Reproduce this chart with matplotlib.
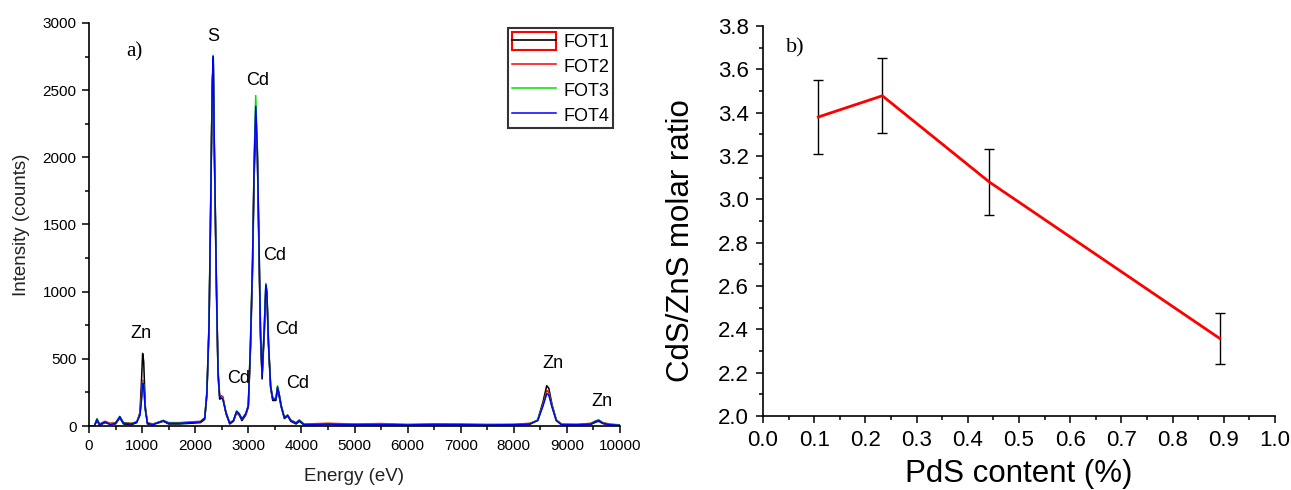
import matplotlib

matplotlib.use("Agg")
import matplotlib.pyplot as plt
from matplotlib.legend_handler import HandlerTuple
from matplotlib.lines import Line2D
from matplotlib.patches import Patch
from matplotlib.ticker import MultipleLocator

plt.rcParams["font.family"] = ["Liberation Sans", "DejaVu Sans"]

# ---- panel a) EDX spectra ----
energy_ev = [0, 100, 150, 200, 300, 400, 500, 580, 650, 800,
             900, 960, 990, 1010, 1030, 1060, 1100, 1200, 1400, 1500,
             1700, 1900, 2100, 2180, 2220, 2260, 2290, 2320, 2340, 2360,
             2400, 2430, 2460, 2520, 2580, 2650, 2720, 2780, 2830, 2880,
             2950, 3000, 3040, 3080, 3110, 3140, 3170, 3200, 3230, 3260,
             3300, 3330, 3350, 3380, 3420, 3460, 3520, 3550, 3580, 3620,
             3680, 3740, 3800, 3900, 3960, 4050, 4500, 5000, 5500, 6000,
             6500, 7000, 7500, 8000, 8300, 8450, 8550, 8620, 8660, 8720,
             8800, 8900, 9200, 9450, 9550, 9600, 9680, 9800, 10000]

fot1 = [0, 0, 40, 5, 25, 15, 15, 60, 15, 10,
        25, 100, 350, 540, 480, 150, 15, 10, 35, 15,
        15, 20, 25, 50, 230, 720, 1550, 2550, 2700, 2050,
        1000, 380, 200, 210, 90, 15, 35, 100, 80, 40,
        80, 140, 560, 1150, 1850, 2200, 2020, 1300, 650, 350,
        680, 1000, 980, 600, 280, 190, 190, 270, 220, 140,
        55, 75, 35, 15, 35, 8, 12, 8, 10, 6,
        10, 8, 6, 8, 12, 45, 180, 300, 280, 160,
        45, 8, 8, 12, 30, 35, 18, 8, 4]

fot2 = [0, 0, 45, 15, 35, 20, 25, 65, 25, 20,
        30, 90, 240, 340, 310, 130, 25, 15, 40, 25,
        25, 30, 35, 60, 240, 740, 1580, 2520, 2720, 2080,
        1060, 410, 230, 220, 100, 25, 40, 105, 85, 55,
        85, 150, 590, 1220, 1940, 2350, 2040, 1380, 690, 380,
        710, 1040, 990, 620, 300, 210, 200, 285, 235, 150,
        65, 80, 45, 25, 45, 15, 20, 15, 18, 12,
        15, 15, 12, 12, 20, 42, 160, 265, 250, 150,
        45, 15, 12, 20, 40, 45, 25, 15, 8]

fot3 = [0, 0, 55, 12, 30, 12, 22, 72, 22, 18,
        32, 85, 210, 330, 305, 125, 22, 12, 42, 22,
        22, 28, 32, 62, 255, 760, 1620, 2540, 2760, 2090,
        1060, 405, 225, 205, 100, 22, 42, 112, 92, 52,
        92, 155, 610, 1240, 1980, 2460, 2080, 1390, 710, 385,
        730, 1060, 1010, 630, 305, 205, 205, 300, 245, 155,
        62, 82, 42, 22, 42, 12, 18, 12, 15, 10,
        15, 12, 10, 12, 18, 42, 155, 245, 235, 145,
        42, 12, 12, 18, 38, 45, 22, 12, 6]

fot4 = [0, 0, 50, 10, 30, 10, 20, 70, 20, 15,
        30, 80, 200, 320, 300, 120, 20, 10, 40, 20,
        20, 25, 30, 60, 250, 750, 1600, 2500, 2750, 2100,
        1050, 400, 220, 200, 100, 20, 40, 110, 90, 50,
        90, 150, 600, 1230, 1950, 2380, 2050, 1400, 700, 380,
        720, 1050, 1000, 620, 300, 200, 200, 290, 240, 150,
        60, 80, 40, 20, 40, 10, 15, 10, 12, 8,
        12, 10, 8, 10, 15, 40, 150, 240, 230, 140,
        40, 10, 10, 15, 35, 40, 20, 10, 5]

series_names = ["FOT1", "FOT2", "FOT3", "FOT4"]
series_colors = ["#000000", "#ff0000", "#00e000", "#0000ff"]

peak_labels = ["S", "Cd", "Cd", "Cd", "Cd", "Cd", "Zn", "Zn", "Zn"]
peak_label_pos = [(2335, 2900), (3180, 2575), (3500, 1270), (3730, 715),
                  (2825, 357), (3920, 320), (980, 690), (8740, 462), (9660, 186)]

# ---- panel b) molar ratio ----
pds_content = [0.108, 0.233, 0.442, 0.892]
molar_ratio = [3.38, 3.478, 3.08, 2.358]
ratio_err = [0.17, 0.172, 0.154, 0.118]

fig = plt.figure(figsize=(12.91, 4.90), dpi=100)
W, H = 1291, 490


def px_axes(left, top, right, bottom):
    return fig.add_axes([left / W, 1 - bottom / H, (right - left) / W, (bottom - top) / H])


ax1 = px_axes(89, 23, 620, 426)
ax2 = px_axes(763, 26, 1275, 416)

for ax in (ax1, ax2):
    for side in ("top", "right"):
        ax.spines[side].set_visible(False)
    for side in ("left", "bottom"):
        ax.spines[side].set_linewidth(1.2)
    ax.tick_params(which="major", direction="out", length=5, width=1.1)
    ax.tick_params(which="minor", direction="out", length=3, width=1.1)

# panel a
spectra = [fot1, fot2, fot3, fot4]
lines = []
for name, vals, col in zip(series_names, spectra, series_colors):
    ln, = ax1.plot(energy_ev, vals, color=col, lw=1.1, label=name)
    lines.append(ln)

ax1.set_xlim(0, 10000)
ax1.set_ylim(0, 3000)
ax1.xaxis.set_major_locator(MultipleLocator(1000))
ax1.xaxis.set_minor_locator(MultipleLocator(500))
ax1.yaxis.set_major_locator(MultipleLocator(500))
ax1.yaxis.set_minor_locator(MultipleLocator(250))
ax1.tick_params(labelsize=11, pad=4)
ax1.set_xlabel("Energy (eV)", fontsize=13.5, color="#222222", labelpad=11)
ax1.set_ylabel("Intensity (counts)", fontsize=13.5, color="#222222", labelpad=9)

for txt, (x, y) in zip(peak_labels, peak_label_pos):
    ax1.text(x, y, txt, fontsize=13, ha="center", va="center")
ax1.text(847, 2784, "a)", fontsize=15, ha="center", va="center",
         family=["Liberation Serif", "DejaVu Serif"])

fot1_handle = (Patch(facecolor="none", edgecolor="red", lw=1.5),
               Line2D([], [], color="black", lw=1.2))
handles = [fot1_handle] + lines[1:]
leg = ax1.legend(handles, series_names, handler_map={tuple: HandlerTuple(ndivide=1)},
                 loc="upper right", bbox_to_anchor=(613 / W, 1 - 28 / H),
                 bbox_transform=fig.transFigure, fontsize=13, frameon=True,
                 fancybox=False, handlelength=2.45, handleheight=1.2,
                 handletextpad=0.4, labelspacing=0.28, borderpad=0.22,
                 borderaxespad=0)
leg.get_frame().set_edgecolor("black")
leg.get_frame().set_linewidth(1.5)

# panel b
ax2.errorbar(pds_content, molar_ratio, yerr=ratio_err, fmt="none",
             ecolor="black", elinewidth=1.0, capsize=3.5, capthick=1.0, zorder=2)
ax2.plot(pds_content, molar_ratio, color="#ff0000", lw=2.0, zorder=3)
ax2.set_xlim(0, 1.0)
ax2.set_ylim(2.0, 3.8)
ax2.xaxis.set_major_locator(MultipleLocator(0.1))
ax2.xaxis.set_minor_locator(MultipleLocator(0.05))
ax2.yaxis.set_major_locator(MultipleLocator(0.2))
ax2.yaxis.set_minor_locator(MultipleLocator(0.1))
ax2.xaxis.set_major_formatter(lambda v, p: f"{v:.1f}")
ax2.yaxis.set_major_formatter(lambda v, p: f"{v:.1f}")
ax2.tick_params(labelsize=16, pad=5)
ax2.set_xlabel("PdS content (%)", fontsize=22.5, labelpad=6)
ax2.set_ylabel("CdS/ZnS molar ratio", fontsize=22.5)
ax2.yaxis.set_label_coords(-0.13, 0.45)
ax2.text(0.064, 3.70, "b)", fontsize=16, ha="center", va="center",
         family=["Liberation Serif", "DejaVu Serif"])

fig.savefig("out.png", dpi=100)
